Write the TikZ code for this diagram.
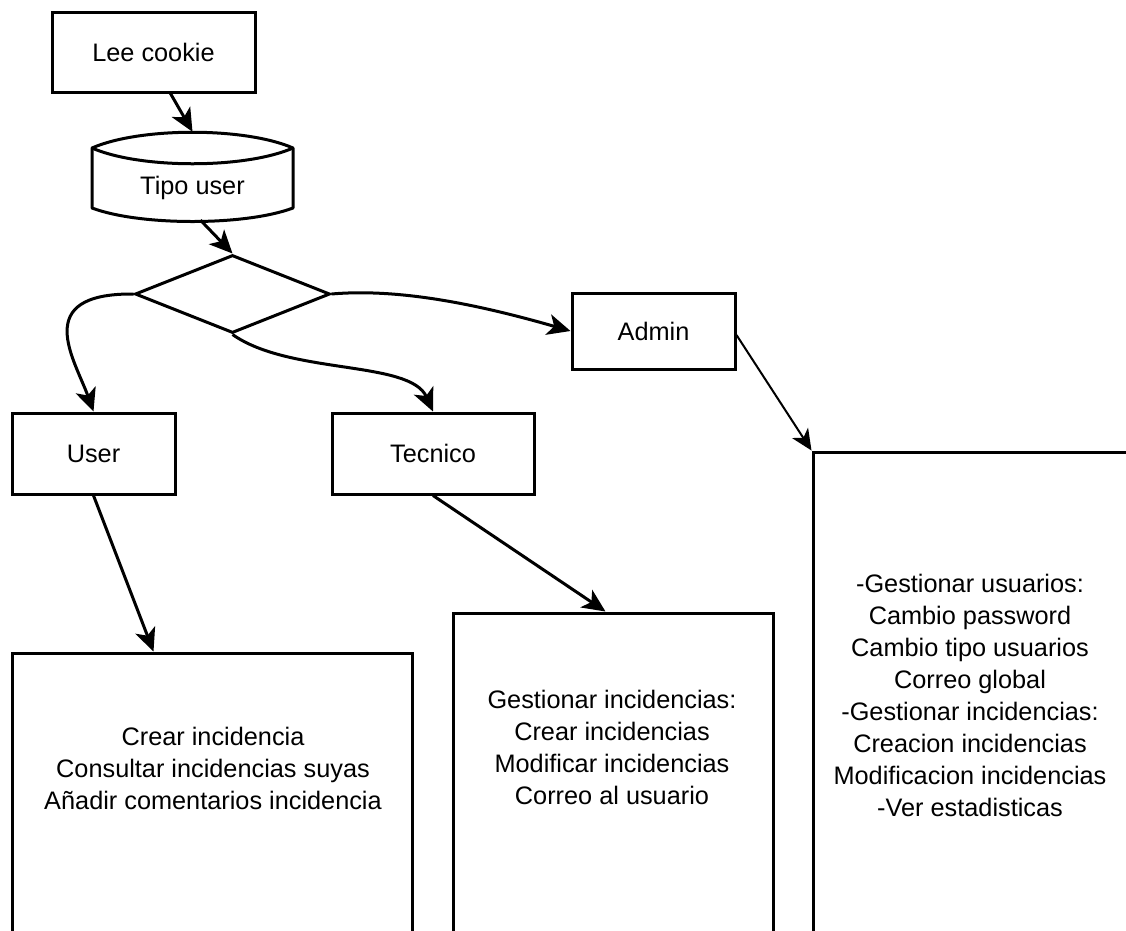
\documentclass[tikz,border=0pt]{standalone}
\usepackage{fontspec}
\setmainfont{Liberation Sans}
\usetikzlibrary{arrows.meta,shapes.geometric}
\begin{document}
\begin{tikzpicture}[x=1pt,y=-1pt,
  box/.style={draw,line width=3pt,rectangle,inner sep=0pt},
  txt/.style={font=\fontsize{25.3}{32}\selectfont,align=center},
  flow/.style={line width=3pt,-{Stealth[length=23pt,width=21pt,inset=6pt]}},
  thinflow/.style={line width=2pt,-{Stealth[length=21pt,width=19pt,inset=6pt]}}]
\useasboundingbox (0,0) rectangle (1126,930);
\clip (0,0) rectangle (1126,930);
\fill[white] (0,0) rectangle (1126,930);

% start and stored user type
\node[box,txt,minimum width=203pt,minimum height=80pt] (lee) at (153.5,52) {Lee cookie};
\node[minimum width=201pt,minimum height=88pt,inner sep=0pt] (tipo) at (192.5,176) {};
\draw[line width=3pt,line join=round] (92,148) .. controls (140,127) and (245,127) .. (293,148)
  -- (293,208) .. controls (245,226) and (140,226) .. (92,208) -- cycle;
\draw[line width=3pt] (92,148) .. controls (140,169) and (245,169) .. (293,148);
\node[txt] (tipotxt) at (192.5,188) {Tipo user};

% decision
\node[diamond,draw,line width=3pt,minimum width=195pt,minimum height=78pt,inner sep=0pt] (dia) at (232.5,294) {};

% roles
\node[box,txt,minimum width=163pt,minimum height=81pt] (user) at (93.5,453.5) {User};
\node[box,txt,minimum width=202pt,minimum height=81pt] (tec) at (433,453.5) {Tecnico};
\node[box,txt,minimum width=163pt,minimum height=76pt] (admin) at (653.5,331) {Admin};

% permission panels
\node[box,minimum width=400pt,minimum height=307pt] (lbox) at (212,806.5) {};
\node[box,minimum width=320pt,minimum height=347pt] (mbox) at (613,786.5) {};
\node[box,minimum width=347pt,minimum height=508pt] (rbox) at (986.5,706) {};

\node[txt] (ltext) at (213,768) {Crear incidencia\\Consultar incidencias suyas\\Añadir comentarios incidencia};
\node[txt] (mtext) at (612,747) {Gestionar incidencias:\\Crear incidencias\\Modificar incidencias\\Correo al usuario};
\node[txt] (rtext) at (970,695) {-Gestionar usuarios:\\Cambio password\\Cambio tipo usuarios\\Correo global\\-Gestionar incidencias:\\Creacion incidencias\\Modificacion incidencias\\-Ver estadisticas};

% connectors
\draw[flow] ([xshift=17pt]lee.south) -- (tipo.north);
\draw[flow] ([xshift=8pt]tipo.south) -- (dia.north);
\draw[flow] (dia.west) .. controls (30,293) and (75,360) .. (user.north);
\draw[flow] (dia.south) .. controls (290,375) and (410,360) .. (tec.north);
\draw[flow] (dia.east) .. controls (400,288) and (480,305) .. (admin.west);
\draw[thinflow] ([yshift=-4pt]admin.east) -- (rbox.north west);
\draw[flow] (user.south) -- ([xshift=143pt]lbox.north west);
\draw[flow] (tec.south) -- ([xshift=154pt]mbox.north west);
\end{tikzpicture}
\end{document}
